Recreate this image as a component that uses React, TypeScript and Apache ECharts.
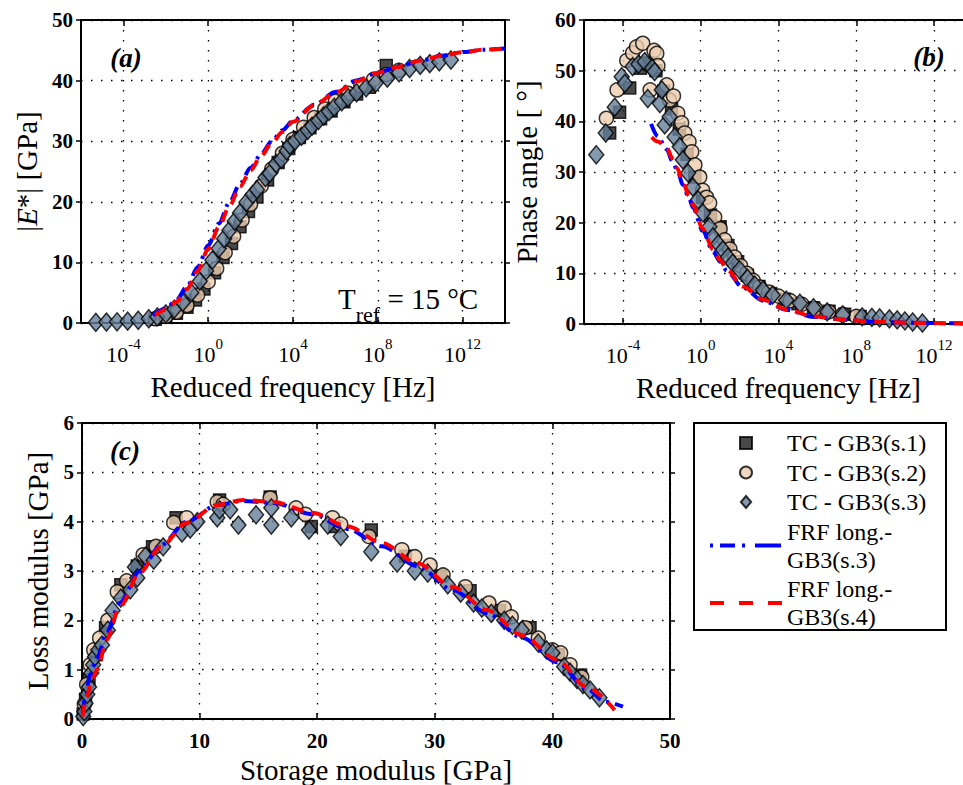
import React, { useEffect, useRef } from 'react';
import * as echarts from 'echarts';

const FONT = 'Liberation Serif';

// ---------- names ----------
const NAME_S1 = 'TC - GB3(s.1)';
const NAME_S2 = 'TC - GB3(s.2)';
const NAME_S3 = 'TC - GB3(s.3)';
const NAME_F3 = 'FRF long.-GB3(s.3)';
const NAME_F4 = 'FRF long.-GB3(s.4)';

// ---------- tick values ----------
const freqTickExponents = [-4, 0, 4, 8, 12];

// ---------- panel (a): [log10(f), |E*| GPa] ----------
const aS1 = [
  [-2.5, 0.6], [-2.0, 1.0], [-1.5, 1.6], [-1.0, 2.6], [-0.6, 3.8], [-0.2, 5.6], [0.3, 8.3], [0.7, 10.8],
  [1.1, 13.1], [1.5, 15.9], [1.9, 18.4], [2.3, 20.8], [2.8, 23.6], [3.3, 26.5], [3.8, 28.8], [4.3, 30.6],
  [4.8, 32.2], [5.3, 33.7], [5.8, 35.0], [6.4, 36.5], [7.0, 37.8], [7.6, 38.9], [8.4, 42.5],
];
const aS2 = [
  [-2.5, 0.7], [-2.0, 1.1], [-1.5, 1.8], [-1.0, 2.9], [-0.5, 4.6], [0.0, 6.8], [0.4, 9.0], [0.8, 11.6],
  [1.2, 14.3], [1.6, 17.0], [2.0, 19.6], [2.5, 22.6], [3.0, 25.4], [3.5, 28.0], [4.0, 30.3], [4.5, 32.3],
  [5.0, 33.9], [5.5, 35.3], [6.0, 36.6], [6.6, 37.9], [7.2, 39.2], [7.8, 40.2], [8.4, 41.0], [9.0, 41.7],
];
const aS3 = [
  [-5.3, 0.1], [-4.8, 0.15], [-4.3, 0.2], [-3.8, 0.3], [-3.3, 0.45], [-2.8, 0.7], [-2.4, 1.0], [-2.0, 1.5],
  [-1.6, 2.3], [-1.2, 3.4], [-0.8, 5.0], [-0.4, 6.9], [-0.1, 8.6], [0.2, 10.4], [0.5, 12.3], [0.75, 13.9],
  [1.0, 15.3], [1.25, 16.8], [1.5, 18.2], [1.8, 19.9], [2.1, 21.2], [2.3, 22.0], [2.7, 24.0], [2.9, 24.7],
  [3.2, 26.3], [3.45, 27.0], [3.7, 28.4], [3.85, 29.3], [4.1, 30.0], [4.4, 30.8], [4.7, 31.8], [4.9, 32.5],
  [5.2, 33.4], [5.45, 34.2], [5.7, 34.9], [5.95, 35.6], [6.3, 36.5], [6.6, 37.2], [7.0, 38.0], [7.45, 38.8],
  [7.9, 39.6], [8.45, 40.4], [9.0, 41.3], [9.5, 42.0], [10.0, 42.5], [10.45, 42.8], [10.9, 43.1], [11.45, 43.4],
];
const aF3 = [
  [-2.6, 1.3], [-2.0, 2.4], [-1.5, 3.8], [-1.0, 6.0], [-0.5, 9.2], [0.0, 12.8], [0.5, 16.4], [1.0, 19.9],
  [1.5, 23.0], [2.0, 25.6], [2.5, 27.9], [3.0, 30.0], [3.5, 31.8], [4.0, 33.4], [5.0, 36.0], [6.0, 38.1],
  [7.0, 40.0], [8.0, 41.3], [9.0, 42.3], [10.0, 43.3], [11.0, 44.1], [12.0, 44.7], [13.0, 45.1], [14.0, 45.3],
];
const aF4 = [
  [-2.5, 1.3], [-2.0, 2.2], [-1.5, 3.5], [-1.0, 5.6], [-0.5, 8.6], [0.0, 12.2], [0.5, 15.8], [1.0, 19.3],
  [1.5, 22.5], [2.0, 25.2], [2.5, 27.6], [3.0, 29.7], [3.5, 31.5], [4.0, 33.2], [5.0, 35.9], [6.0, 38.0],
  [7.0, 39.9], [8.0, 41.3], [9.0, 42.3], [10.0, 43.3], [11.0, 44.1], [12.0, 44.7], [13.0, 45.1], [14.0, 45.3],
];

// ---------- panel (b): [log10(f), phase angle deg] ----------
const bS1 = [
  [-4.68, 37.7], [-4.17, 41.8], [-3.65, 46.6], [-3.1, 50.5], [-2.7, 51.5], [-2.3, 50.0], [-1.9, 46.0],
  [-1.5, 42.5], [-1.1, 38.5], [-0.7, 33.5], [-0.3, 29.0], [0.1, 25.0], [0.5, 21.5], [1.0, 19.2], [1.4, 15.5],
  [1.9, 12.3], [2.4, 9.6], [3.0, 7.4], [3.6, 6.0], [4.3, 4.9], [5.0, 4.0], [5.8, 3.2], [6.6, 2.5], [7.4, 1.9],
  [8.2, 1.5],
];
const bS2 = [
  [-4.85, 40.6], [-4.3, 46.2], [-3.8, 52.0], [-3.5, 53.5], [-3.3, 54.7], [-2.98, 55.4], [-2.6, 46.2],
  [-2.4, 54.0], [-2.26, 53.4], [-2.2, 51.0], [-1.75, 47.2], [-1.6, 44.2], [-1.4, 45.0], [-1.18, 41.6],
  [-0.98, 39.7], [-0.82, 37.7], [-0.6, 36.0], [-0.46, 34.0], [-0.3, 31.4], [-0.05, 29.0], [0.1, 26.4],
  [0.3, 25.0], [0.46, 23.9], [0.72, 21.1], [1.0, 18.8], [1.23, 16.6], [1.5, 14.8], [1.75, 13.2], [2.05, 11.5],
  [2.37, 10.0], [2.7, 8.6], [3.03, 7.3], [3.5, 6.3], [4.0, 5.5], [4.6, 4.6], [5.2, 3.9], [5.9, 3.0],
  [6.6, 2.4], [7.3, 1.9], [8.0, 1.5],
];
const bS3 = [
  [-5.37, 33.4], [-4.88, 37.7], [-4.42, 42.8], [-4.06, 48.8], [-3.9, 47.5], [-3.5, 50.8], [-3.2, 51.3],
  [-2.88, 51.8], [-2.72, 44.5], [-2.5, 50.5], [-2.37, 49.8], [-2.1, 43.5], [-2.0, 46.2], [-1.85, 39.3],
  [-1.6, 40.9], [-1.34, 36.9], [-1.08, 35.0], [-0.92, 32.4], [-0.65, 29.8], [-0.4, 27.0], [-0.14, 24.5],
  [0.12, 21.9], [0.45, 19.2], [0.63, 17.2], [0.9, 15.8], [1.14, 14.6], [1.4, 13.2], [1.65, 12.0], [2.0, 10.7],
  [2.4, 9.0], [2.78, 7.7], [3.2, 6.7], [3.7, 5.7], [4.4, 4.7], [5.1, 4.1], [5.8, 3.2], [6.5, 2.4], [7.3, 1.8],
  [8.3, 1.4], [8.8, 1.3], [9.2, 1.2], [9.7, 1.0], [10.1, 0.8], [10.5, 0.6], [10.9, 0.4], [11.4, 0.2],
];
const bF3 = [
  [-2.55, 39.5], [-2.2, 37.0], [-1.75, 34.5], [-1.44, 32.0], [-1.2, 30.3], [-0.92, 27.5], [-0.6, 24.8],
  [-0.4, 23.0], [0.1, 18.4], [0.63, 14.3], [1.0, 12.3], [1.34, 10.5], [2.16, 7.2], [3.2, 4.6], [4.4, 2.8],
  [5.8, 1.4], [7.5, 0.8], [9.2, 0.4], [10.9, 0.25], [12.5, 0.15], [14.0, 0.1],
];
const bF4 = [
  [-2.52, 36.9], [-2.2, 36.0], [-1.75, 34.8], [-1.44, 32.6], [-1.2, 30.7], [-0.92, 28.0], [-0.6, 25.3],
  [-0.4, 23.5], [0.1, 18.8], [0.63, 14.7], [1.0, 12.6], [1.34, 10.8], [2.16, 7.4], [3.2, 4.8], [4.4, 2.9],
  [5.8, 1.5], [7.5, 0.8], [9.2, 0.4], [10.9, 0.25], [12.5, 0.15], [14.0, 0.1],
];

// ---------- panel (c): [storage modulus, loss modulus] GPa ----------
const cS1 = [
  [0.1, 0.1], [0.3, 0.4], [0.6, 0.8], [1.2, 1.3], [2.0, 1.85], [3.3, 2.72], [4.7, 3.1], [6.0, 3.49],
  [8.0, 4.08], [11.7, 4.44], [16.0, 4.5], [19.5, 3.9], [21.5, 3.9], [24.6, 3.83], [27.5, 3.3], [30.5, 2.9],
  [33.0, 2.6], [35.5, 2.2], [38.1, 1.85], [40.5, 1.3], [42.4, 0.89],
];
const cS2 = [
  [0.2, 0.3], [0.4, 0.7], [0.7, 1.1], [1.0, 1.4], [1.5, 1.64], [2.2, 2.0], [3.0, 2.58], [3.8, 2.8],
  [5.2, 3.33], [6.3, 3.5], [7.8, 3.98], [8.9, 4.08], [11.5, 4.4], [12.0, 4.35], [16.0, 4.48], [18.2, 4.28],
  [19.0, 4.15], [21.3, 4.08], [22.0, 3.95], [24.4, 3.7], [27.2, 3.43], [28.3, 3.29], [29.6, 3.12],
  [30.7, 2.92], [32.6, 2.68], [34.6, 2.35], [35.9, 2.25], [36.5, 2.07], [37.7, 1.85], [38.8, 1.64],
  [40.0, 1.4], [40.7, 1.34], [41.5, 1.1], [42.5, 0.85],
];
const cS3 = [
  [0.1, 0.05], [0.2, 0.15], [0.3, 0.32], [0.45, 0.5], [0.6, 0.65], [0.78, 0.93], [0.95, 1.1], [1.1, 1.26],
  [1.4, 1.4], [1.7, 1.5], [2.2, 1.8], [2.6, 2.2], [3.3, 2.45], [4.1, 2.62], [4.5, 3.08], [4.7, 2.86],
  [5.4, 3.3], [6.1, 3.22], [6.9, 3.49], [8.5, 3.77], [9.2, 3.85], [9.8, 4.0], [11.5, 4.08], [11.7, 4.24],
  [12.6, 4.24], [13.3, 3.93], [14.8, 4.14], [16.1, 3.93], [16.1, 4.28], [17.8, 4.08], [19.3, 3.83],
  [20.9, 3.93], [22.0, 3.7], [24.6, 3.39], [26.8, 3.16], [28.3, 3.0], [29.4, 2.96], [31.1, 2.72],
  [32.2, 2.55], [33.3, 2.35], [34.0, 2.25], [34.8, 2.14], [35.9, 2.0], [36.6, 1.9], [37.4, 1.8],
  [38.8, 1.54], [39.5, 1.4], [40.0, 1.34], [41.0, 1.06], [41.5, 0.95], [42.1, 0.8], [42.6, 0.7],
  [43.2, 0.59], [44.0, 0.43],
];
const cF3 = [
  [0.05, 0.1], [0.3, 0.5], [0.7, 0.9], [1.3, 1.25], [2.1, 1.75], [3.2, 2.35], [4.9, 3.0], [6.7, 3.52],
  [8.9, 4.0], [11.5, 4.34], [13.7, 4.42], [16.3, 4.38], [19.6, 4.15], [22.6, 3.85], [25.5, 3.5], [28.5, 3.1],
  [31.5, 2.62], [34.4, 2.15], [37.4, 1.65], [40.4, 1.15], [42.9, 0.62], [44.5, 0.35], [46.0, 0.25],
];
const cF4 = [
  [0.05, 0.05], [0.4, 0.45], [0.8, 0.75], [1.3, 1.0], [2.1, 1.6], [3.2, 2.27], [4.9, 2.96], [6.7, 3.49],
  [8.9, 3.98], [11.5, 4.34], [13.7, 4.44], [16.3, 4.4], [19.6, 4.18], [22.6, 3.9], [25.5, 3.57], [28.5, 3.16],
  [31.5, 2.68], [34.4, 2.21], [37.4, 1.7], [40.4, 1.2], [42.9, 0.65], [45.3, 0.18],
];

// ---------- styles ----------
const BLACK = '#000';
const BLUE = '#0000FF';
const RED = '#FF0000';
const dotted = { color: BLACK, width: 1.3, type: [1.5, 8.5] };
const axisLineStyle = { color: BLACK, width: 2 };
const tickStyle = { color: BLACK, width: 1.5 };
const nameStyle = { fontFamily: FONT, fontSize: 29, color: BLACK, lineHeight: 29 };

const sqStyle = { symbol: 'rect', symbolSize: 12, itemStyle: { color: '#1c1c1c', borderColor: BLACK, borderWidth: 1.5 } };
const ciStyle = { symbol: 'circle', symbolSize: 14, itemStyle: { color: '#EBCDB0', borderColor: BLACK, borderWidth: 1.5 } };
const diStyle = { symbol: 'diamond', symbolSize: [15, 18], itemStyle: { color: '#67809A', borderColor: BLACK, borderWidth: 1.5 } };
const blueLine = { color: BLUE, width: 4, type: [14, 6, 3, 6] };
const redLine = { color: RED, width: 4, type: [12, 8] };

// legend line icons (72 x 12 box; corner specks fix the bounding box)
const BOX = 'M0,0h0.01v0.01h-0.01Z M72,12h-0.01v-0.01h0.01Z ';
const blueIcon = 'path://' + BOX + 'M0,4h3v4h-3Z M10,4h15v4h-15Z M32,4h3v4h-3Z M45,4h26v4h-26Z';
const redIcon = 'path://' + BOX + 'M0,4h14v4h-14Z M29,4h14v4h-14Z M58,4h14v4h-14Z';

function logX(grid: number, name: string) {
  return [
    {
      type: 'value', gridIndex: grid, min: -6, max: 14, position: 'bottom',
      axisLine: { show: true, onZero: false, lineStyle: axisLineStyle },
      axisTick: { show: true, inside: true, length: 6, customValues: freqTickExponents, lineStyle: tickStyle },
      axisLabel: {
        customValues: freqTickExponents, margin: 20, color: BLACK,
        formatter: (v: number) => `{b|10}{s|${v}}`,
        rich: {
          b: { fontFamily: FONT, fontSize: 22, lineHeight: 22, color: BLACK },
          s: { fontFamily: FONT, fontSize: 15, lineHeight: 15, color: BLACK, padding: [0, 0, 20, 0] },
        },
      },
      splitLine: { show: true, lineStyle: dotted },
      name, nameLocation: 'middle', nameGap: 46, nameTextStyle: nameStyle,
    },
    {
      type: 'value', gridIndex: grid, min: -6, max: 14, position: 'top',
      axisLine: { show: true, onZero: false, lineStyle: axisLineStyle },
      axisTick: { show: true, inside: true, length: 6, customValues: freqTickExponents, lineStyle: tickStyle },
      axisLabel: { show: false, customValues: freqTickExponents },
      splitLine: { show: false },
    },
  ];
}

function linX(grid: number, min: number, max: number, interval: number, name: string, nameGap: number) {
  return [
    {
      type: 'value', gridIndex: grid, min, max, interval, position: 'bottom',
      axisLine: { show: true, onZero: false, lineStyle: axisLineStyle },
      axisTick: { show: true, inside: true, length: 6, lineStyle: tickStyle },
      axisLabel: { margin: 11, color: BLACK, fontFamily: FONT, fontSize: 21, fontWeight: 'bold' },
      splitLine: { show: true, lineStyle: dotted },
      name, nameLocation: 'middle', nameGap, nameTextStyle: nameStyle,
    },
    {
      type: 'value', gridIndex: grid, min, max, interval, position: 'top',
      axisLine: { show: true, onZero: false, lineStyle: axisLineStyle },
      axisTick: { show: true, inside: true, length: 6, lineStyle: tickStyle },
      axisLabel: { show: false },
      splitLine: { show: false },
    },
  ];
}

function linY(grid: number, min: number, max: number, interval: number, name: any, nameGap: number, rich?: any) {
  return [
    {
      type: 'value', gridIndex: grid, min, max, interval, position: 'left',
      axisLine: { show: true, onZero: false, lineStyle: axisLineStyle },
      axisTick: { show: true, inside: false, length: 5, lineStyle: tickStyle },
      axisLabel: { margin: 8, color: BLACK, fontFamily: FONT, fontSize: 21, fontWeight: 'bold' },
      splitLine: { show: true, lineStyle: dotted },
      name, nameLocation: 'middle', nameGap,
      nameTextStyle: rich ? { ...nameStyle, rich } : nameStyle,
    },
    {
      type: 'value', gridIndex: grid, min, max, interval, position: 'right',
      axisLine: { show: true, onZero: false, lineStyle: axisLineStyle },
      axisTick: { show: true, inside: false, length: 5, lineStyle: tickStyle },
      axisLabel: { show: false },
      splitLine: { show: false },
    },
  ];
}

function panelSeries(p: number, s1: number[][], s2: number[][], s3: number[][], f3: number[][], f4: number[][]) {
  const axes = { xAxisIndex: p * 2, yAxisIndex: p * 2 };
  const sc = { type: 'scatter', clip: false, ...axes };
  const ln = { type: 'line', clip: false, symbol: 'none', showSymbol: false, smooth: 0.3, smoothMonotone: 'x', ...axes };
  return [
    { ...sc, name: NAME_S1, data: s1, ...sqStyle, z: 2 },
    { ...sc, name: NAME_S2, data: s2, ...ciStyle, z: 3 },
    { ...sc, name: NAME_S3, data: s3, ...diStyle, z: 4 },
    { ...ln, name: NAME_F3, data: f3, lineStyle: blueLine, itemStyle: { color: BLUE }, z: 5 },
    { ...ln, name: NAME_F4, data: f4, lineStyle: redLine, itemStyle: { color: RED }, z: 6 },
  ];
}

const eRich = {
  n: { fontFamily: FONT, fontSize: 29, color: BLACK },
  i: { fontFamily: FONT, fontSize: 29, color: BLACK, fontStyle: 'italic' },
};

const panelTag = (x: number, y: number, text: string) => ({
  type: 'text', x, y, z: 10,
  style: { text, fontFamily: FONT, fontSize: 27, fontWeight: 'bold', fontStyle: 'italic', fill: BLACK, align: 'center', verticalAlign: 'middle' },
});

const option: any = {
  animation: false,
  backgroundColor: '#fff',
  textStyle: { fontFamily: FONT },
  grid: [
    { left: 81, top: 20, width: 424, height: 303, outerBoundsMode: 'none', containLabel: false },
    { left: 584, top: 20, width: 389, height: 304, outerBoundsMode: 'none', containLabel: false },
    { left: 82, top: 423, width: 588, height: 296, outerBoundsMode: 'none', containLabel: false },
  ],
  xAxis: [
    ...logX(0, 'Reduced frequency [Hz]'),
    ...logX(1, 'Reduced frequency [Hz]'),
    ...linX(2, 0, 50, 10, 'Storage modulus [GPa]', 36),
  ],
  yAxis: [
    ...linY(0, 0, 50, 10, '{n||}{i|E}{n|*| [GPa]}', 40, eRich),
    ...linY(1, 0, 60, 10, 'Phase angle [ °]', 43),
    ...linY(2, 0, 6, 1, 'Loss modulus [GPa]', 30),
  ],
  legend: {
    orient: 'vertical', left: 710, top: 429, itemWidth: 72, itemHeight: 12, itemGap: 1.5,
    selectedMode: false, symbolKeepAspect: true, padding: 0,
    textStyle: { fontFamily: FONT, fontSize: 24, lineHeight: 28, color: BLACK },
    formatter: (n: string) => n.replace('-GB3', '-\nGB3'),
    data: [
      { name: NAME_S1, icon: 'path://M0,0L10,0L10,10L0,10Z' },
      { name: NAME_S2, icon: 'circle' },
      { name: NAME_S3, icon: 'path://M6,0L12,7L6,14L0,7Z' },
      { name: NAME_F3, icon: blueIcon, itemStyle: { color: BLUE, borderWidth: 0 } },
      { name: NAME_F4, icon: redIcon, itemStyle: { color: RED, borderWidth: 0 } },
    ],
  },
  graphic: [
    { type: 'rect', shape: { x: 694, y: 423, width: 252, height: 207 }, style: { fill: 'transparent', stroke: BLACK, lineWidth: 2 }, z: 10 },
    panelTag(126, 58, '(a)'),
    panelTag(929, 57, '(b)'),
    panelTag(125, 451, '(c)'),
    {
      type: 'text', x: 338, y: 299, z: 10,
      style: {
        text: '{t|T}{r|ref}{t| = 15 °C}', align: 'left', verticalAlign: 'middle',
        rich: {
          t: { fontFamily: FONT, fontSize: 29, fill: BLACK, lineHeight: 29 },
          r: { fontFamily: FONT, fontSize: 22, fill: BLACK, lineHeight: 22, padding: [30, 0, 0, 0] },
        },
      },
    },
  ],
  series: [
    ...panelSeries(0, aS1, aS2, aS3, aF3, aF4),
    ...panelSeries(1, bS1, bS2, bS3, bF3, bF4),
    ...panelSeries(2, cS1, cS2, cS3, cF3, cF4),
  ],
};

export default function App() {
  const ref = useRef<HTMLDivElement>(null);
  useEffect(() => {
    if (!ref.current) return;
    const chart = echarts.init(ref.current, null, { renderer: 'svg', width: 963, height: 785 });
    chart.setOption(option);
    return () => chart.dispose();
  }, []);
  return (
    <div
      ref={ref}
      style={{ position: 'absolute', left: 0, top: 0, width: 963, height: 785, background: '#fff' }}
    />
  );
}
